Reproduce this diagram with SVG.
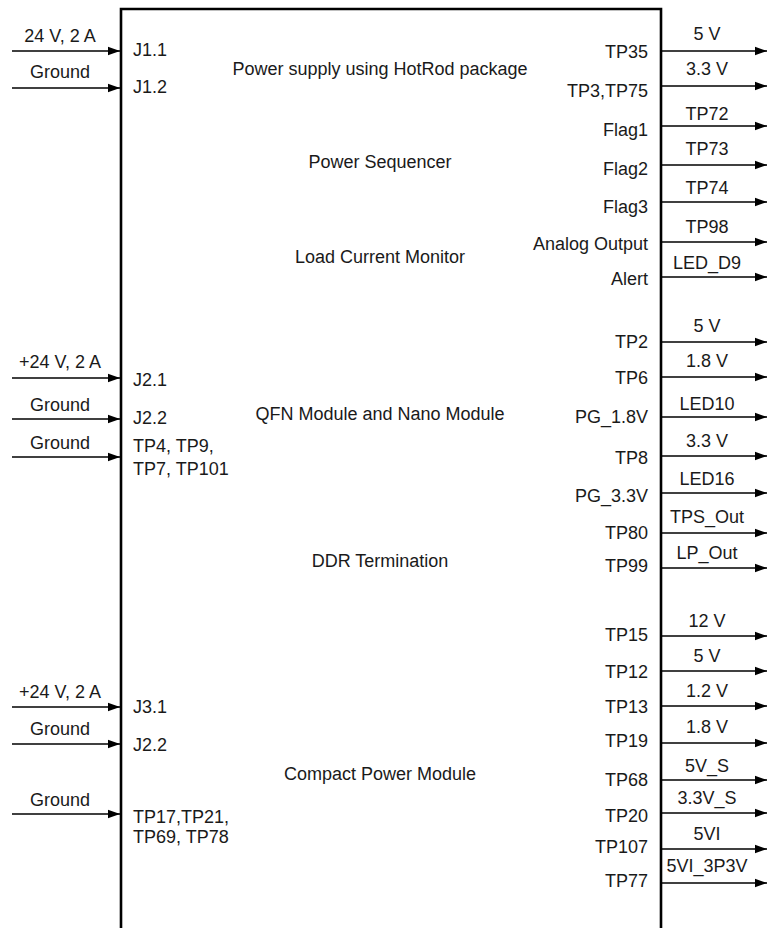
<svg xmlns="http://www.w3.org/2000/svg" width="767" height="928" viewBox="0 0 767 928">
<style>
text{font-family:"Liberation Sans",Arial,sans-serif;font-size:18px;fill:#1a1a1a}
.m{text-anchor:middle}
.e{text-anchor:end}
.c{stroke:#000;stroke-width:1.4;fill:none;marker-end:url(#ah)}
.box{stroke:#000;stroke-width:2.6;fill:none}
</style>
<defs>
<marker id="ah" markerUnits="userSpaceOnUse" markerWidth="13" markerHeight="10" refX="12.5" refY="5" orient="auto">
<path d="M0,0.5 L12.5,5 L0,9.5 z" fill="#000"/>
</marker>
</defs>
<rect width="767" height="928" fill="#fff"/>
<g id="board">
<path class="box" d="M121,928 V9 H661 V928"/>
<text class="m" x="380" y="75">Power supply using HotRod package</text>
<text class="m" x="380" y="168">Power Sequencer</text>
<text class="m" x="380" y="263">Load Current Monitor</text>
<text class="m" x="380" y="420">QFN Module and Nano Module</text>
<text class="m" x="380" y="567">DDR Termination</text>
<text class="m" x="380" y="780">Compact Power Module</text>
</g>
<g id="input-ports">
<text x="133" y="56">J1.1</text>
<text x="133" y="93">J1.2</text>
<text x="133" y="386">J2.1</text>
<text x="133" y="424">J2.2</text>
<text x="133" y="452">TP4, TP9,</text>
<text x="133" y="475">TP7, TP101</text>
<text x="133" y="713">J3.1</text>
<text x="133" y="751">J2.2</text>
<text x="133" y="823">TP17,TP21,</text>
<text x="133" y="843">TP69, TP78</text>
</g>
<g id="output-ports">
<text class="e" x="648" y="58">TP35</text>
<text class="e" x="648" y="97">TP3,TP75</text>
<text class="e" x="648" y="136">Flag1</text>
<text class="e" x="648" y="175">Flag2</text>
<text class="e" x="648" y="213">Flag3</text>
<text class="e" x="648" y="250">Analog Output</text>
<text class="e" x="648" y="285">Alert</text>
<text class="e" x="648" y="348">TP2</text>
<text class="e" x="648" y="384">TP6</text>
<text class="e" x="648" y="423">PG_1.8V</text>
<text class="e" x="648" y="464">TP8</text>
<text class="e" x="648" y="502">PG_3.3V</text>
<text class="e" x="648" y="539">TP80</text>
<text class="e" x="648" y="572">TP99</text>
<text class="e" x="648" y="641">TP15</text>
<text class="e" x="648" y="678">TP12</text>
<text class="e" x="648" y="713">TP13</text>
<text class="e" x="648" y="747">TP19</text>
<text class="e" x="648" y="786">TP68</text>
<text class="e" x="648" y="822">TP20</text>
<text class="e" x="648" y="853">TP107</text>
<text class="e" x="648" y="887">TP77</text>
</g>
<g id="connectors">
<line class="c" x1="12" y1="51" x2="120" y2="51"/>
<line class="c" x1="12" y1="88" x2="120" y2="88"/>
<line class="c" x1="12" y1="378" x2="120" y2="378"/>
<line class="c" x1="12" y1="419" x2="120" y2="419"/>
<line class="c" x1="12" y1="457" x2="120" y2="457"/>
<line class="c" x1="12" y1="707" x2="120" y2="707"/>
<line class="c" x1="12" y1="744" x2="120" y2="744"/>
<line class="c" x1="12" y1="814" x2="120" y2="814"/>
<text class="m" x="60" y="42">24 V, 2 A</text>
<text class="m" x="60" y="78">Ground</text>
<text class="m" x="60" y="368">+24 V, 2 A</text>
<text class="m" x="60" y="411">Ground</text>
<text class="m" x="60" y="449">Ground</text>
<text class="m" x="60" y="698">+24 V, 2 A</text>
<text class="m" x="60" y="735">Ground</text>
<text class="m" x="60" y="806">Ground</text>
<line class="c" x1="661" y1="51" x2="767" y2="51"/>
<line class="c" x1="661" y1="86" x2="767" y2="86"/>
<line class="c" x1="661" y1="126" x2="767" y2="126"/>
<line class="c" x1="661" y1="165" x2="767" y2="165"/>
<line class="c" x1="661" y1="202" x2="767" y2="202"/>
<line class="c" x1="661" y1="242" x2="767" y2="242"/>
<line class="c" x1="661" y1="277" x2="767" y2="277"/>
<line class="c" x1="661" y1="342" x2="767" y2="342"/>
<line class="c" x1="661" y1="377" x2="767" y2="377"/>
<line class="c" x1="661" y1="417" x2="767" y2="417"/>
<line class="c" x1="661" y1="456" x2="767" y2="456"/>
<line class="c" x1="661" y1="493" x2="767" y2="493"/>
<line class="c" x1="661" y1="533" x2="767" y2="533"/>
<line class="c" x1="661" y1="568" x2="767" y2="568"/>
<line class="c" x1="661" y1="636" x2="767" y2="636"/>
<line class="c" x1="661" y1="671" x2="767" y2="671"/>
<line class="c" x1="661" y1="706" x2="767" y2="706"/>
<line class="c" x1="661" y1="743" x2="767" y2="743"/>
<line class="c" x1="661" y1="780" x2="767" y2="780"/>
<line class="c" x1="661" y1="813" x2="767" y2="813"/>
<line class="c" x1="661" y1="849" x2="767" y2="849"/>
<line class="c" x1="661" y1="883" x2="767" y2="883"/>
<text class="m" x="707" y="40">5 V</text>
<text class="m" x="707" y="75">3.3 V</text>
<text class="m" x="707" y="120">TP72</text>
<text class="m" x="707" y="155">TP73</text>
<text class="m" x="707" y="194">TP74</text>
<text class="m" x="707" y="233">TP98</text>
<text class="m" x="707" y="269">LED_D9</text>
<text class="m" x="707" y="332">5 V</text>
<text class="m" x="707" y="367">1.8 V</text>
<text class="m" x="707" y="410">LED10</text>
<text class="m" x="707" y="447">3.3 V</text>
<text class="m" x="707" y="485">LED16</text>
<text class="m" x="707" y="523">TPS_Out</text>
<text class="m" x="707" y="559">LP_Out</text>
<text class="m" x="707" y="627">12 V</text>
<text class="m" x="707" y="662">5 V</text>
<text class="m" x="707" y="697">1.2 V</text>
<text class="m" x="707" y="733">1.8 V</text>
<text class="m" x="707" y="772">5V_S</text>
<text class="m" x="707" y="804">3.3V_S</text>
<text class="m" x="707" y="840">5VI</text>
<text class="m" x="707" y="872">5VI_3P3V</text>
</g>
</svg>
